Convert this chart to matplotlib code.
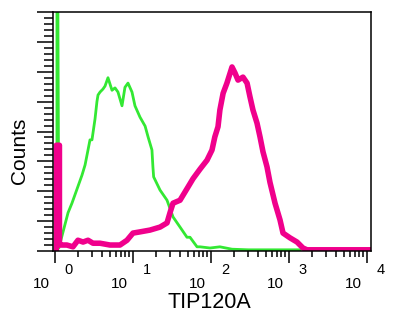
import numpy as np
import matplotlib.pyplot as plt
from matplotlib.ticker import MultipleLocator, LogLocator, NullFormatter

plt.rcParams['font.family'] = ['Liberation Sans', 'DejaVu Sans']

# isotype control (green)
green_x = [1.06, 1.06, 1.09, 1.12, 1.47, 1.65, 2.22, 2.43, 2.65, 2.81, 2.98, 3.26, 3.45,
           3.56, 3.78, 4.12, 4.38, 4.78, 5.38, 5.88, 6.42, 7.23, 7.89, 8.63, 9.71, 10.6,
           12.3, 14.3, 15.6, 17.5, 18.0, 18.4, 22.2, 27.3, 32.6, 40.1, 49.2, 53.8, 66.2,
           72.3, 97.1, 130, 186, 300, 700, 1384]
green_y = [0, 400, 400, 5, 64, 80, 127, 144, 169, 186, 186, 221, 250,
           261, 266, 271, 276, 290, 269, 273, 266, 243, 274, 281, 266, 243,
           224, 209, 191, 169, 141, 124, 102, 85, 57, 40, 23, 23, 7,
           7, 5, 7, 3, 2, 2, 2]

# TIP120A stained (magenta)
pink_x = [1.04, 1.04, 1.14, 1.14, 1.23, 1.42, 1.70, 1.97, 2.29, 2.65, 3.07, 3.78, 5.07, 6.81,
          8.38, 10.0, 12.3, 16.5, 22.2, 27.3, 29.8, 32.6, 40.1, 50.7, 58.8, 72.3, 88.9,
          103, 112, 123, 130, 143, 160, 186, 203, 222, 257, 290, 316, 345, 389, 425,
          464, 522, 570, 662, 767, 838, 1030, 1267, 1511, 1702, 11250]
pink_y = [0, 177, 177, 10, 10, 10, 7, 18, 15, 18, 13, 13, 10, 10,
          18, 30, 32, 35, 40, 47, 64, 80, 85, 107, 121, 137, 152,
          169, 191, 208, 236, 264, 281, 308, 298, 286, 291, 281, 258, 236, 214, 191,
          166, 141, 115, 80, 52, 30, 22, 15, 5, 2, 2]

decades = [0, 1, 2, 3, 4]

fig = plt.figure(figsize=(3.94, 3.31), dpi=100)
ax = fig.add_axes([53/394, 1-251/331, 318/394, 239/331])

ax.plot(green_x, green_y, color='#33e833', lw=2)
ax.plot(pink_x, pink_y, color='#f0008c', lw=4, solid_joinstyle='round')

ax.set_xscale('log')
ax.set_xlim(0.943, 11250)
ax.set_ylim(0, 400)

ax.xaxis.set_major_locator(LogLocator(base=10))
ax.xaxis.set_minor_locator(LogLocator(base=10, subs=np.arange(2, 10)))
ax.xaxis.set_major_formatter(NullFormatter())
ax.xaxis.set_minor_formatter(NullFormatter())
ax.yaxis.set_major_locator(MultipleLocator(50))
ax.yaxis.set_minor_locator(MultipleLocator(10))
ax.yaxis.set_major_formatter(NullFormatter())

ax.tick_params(axis='x', which='major', length=8.6, width=1.1, direction='out')
ax.tick_params(axis='x', which='minor', length=4.3, width=1.1, direction='out')
ax.tick_params(axis='y', which='major', length=11.5, width=1.1, direction='out')
ax.tick_params(axis='y', which='minor', length=6.5, width=1.1, direction='out')
for s in ax.spines.values():
    s.set_linewidth(1.1)

for d in decades:
    ax.annotate('10', xy=(10**d, 0), xycoords=('data', 'axes fraction'),
                xytext=(-14, -33), textcoords='offset pixels',
                ha='center', va='center', fontsize=11)
    ax.annotate(str(d), xy=(10**d, 0), xycoords=('data', 'axes fraction'),
                xytext=(14, -19), textcoords='offset pixels',
                ha='center', va='center', fontsize=10.5)

fig.text(209/394, 1-302/331, 'TIP120A', ha='center', va='center', fontsize=15.5)
fig.text(19/394, 1-151/331, 'Counts', ha='center', va='center', rotation=90, fontsize=15)

fig.savefig('out.png', dpi=100)
